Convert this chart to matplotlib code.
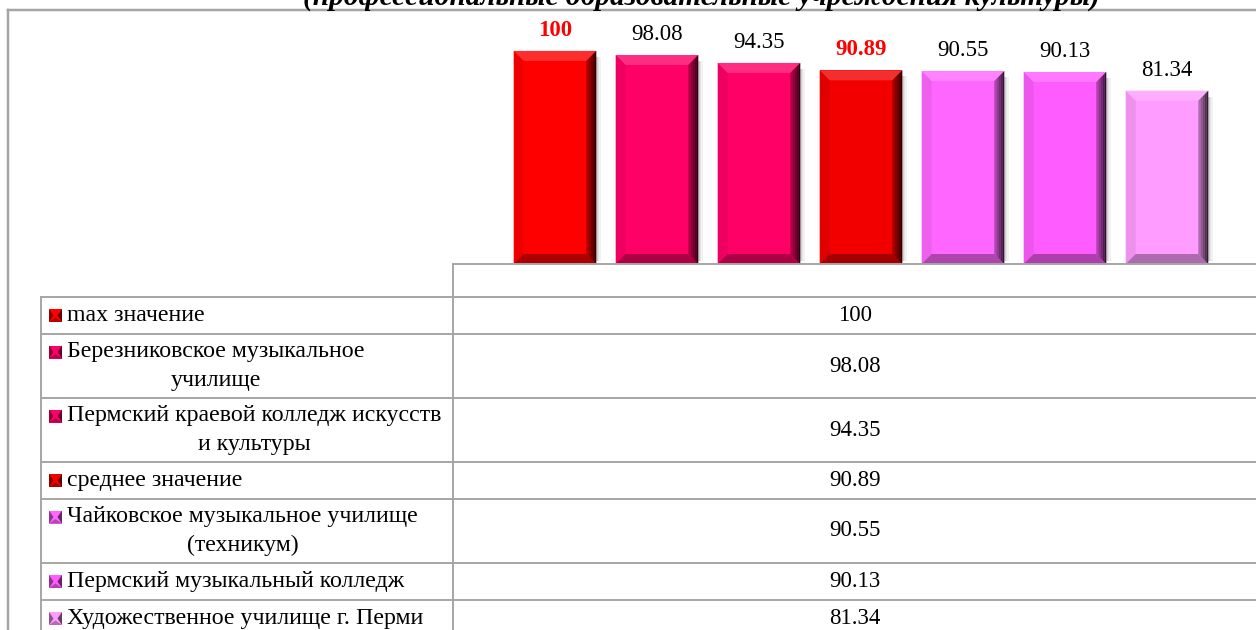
import numpy as np
import matplotlib
matplotlib.use('Agg')
import matplotlib.pyplot as plt
from matplotlib.colors import to_rgb
from matplotlib.patches import Polygon

plt.rcParams['font.family'] = ['Liberation Serif', 'DejaVu Serif']

# data
series_names = ['max значение',
                'Березниковское музыкальное\nучилище',
                'Пермский краевой колледж искусств\nи культуры',
                'среднее значение',
                'Чайковское музыкальное училище\n(техникум)',
                'Пермский музыкальный колледж',
                'Художественное училище г. Перми']
values = [100, 98.08, 94.35, 90.89, 90.55, 90.13, 81.34]
highlight = [True, False, False, True, False, False, False]
bar_colors = ['#FF0000', '#FF0066', '#FF0066', '#F20000', '#FF66FF', '#FF5CFF', '#FF9CFF']
title = '(профессиональные образовательные учреждения культуры)'

W, H = 1256, 630
GRID = '#a6a6a6'


def shade(c, f):
    c = np.array(to_rgb(c))
    if f < 1:
        return tuple(c * f)
    return tuple(c + (1 - c) * (f - 1))


def draw_bevel(ax, x0, w, h, color, bx, by, z=3):
    x1 = x0 + w
    # outer soft shadow on the right
    for k, a in enumerate([0.18, 0.10, 0.05]):
        ax.add_patch(Polygon([(x1 + k * bx * 0.15, by * 0.3), (x1 + (k + 1) * bx * 0.15, by * 0.3),
                              (x1 + (k + 1) * bx * 0.15, h - by * 0.6), (x1 + k * bx * 0.15, h - by * 0.6)],
                             closed=True, fc='black', ec='none', alpha=a, zorder=z - 1))
    ax.add_patch(Polygon([(x0, 0), (x0, h), (x0 + bx, h - by), (x0 + bx, by)],
                         closed=True, fc=shade(color, 0.93), ec='none', zorder=z))
    ax.add_patch(Polygon([(x0, h), (x1, h), (x1 - bx, h - by), (x0 + bx, h - by)],
                         closed=True, fc=shade(color, 1.18), ec='none', zorder=z))
    ax.add_patch(Polygon([(x0, 0), (x1, 0), (x1 - bx, by), (x0 + bx, by)],
                         closed=True, fc=shade(color, 0.68), ec='none', zorder=z))
    # right side: gradient to dark edge
    n = 5
    for i in range(n):
        a = x1 - bx + bx * i / n
        b = x1 - bx + bx * (i + 1) / n
        yb = lambda x: by * (x1 - x) / bx
        yt = lambda x: h - by * (x1 - x) / bx
        f = 0.75 - 0.62 * (i + 0.5) / n
        ax.add_patch(Polygon([(a, yb(a)), (b, yb(b)), (b, yt(b)), (a, yt(a))],
                             closed=True, fc=shade(color, f), ec='none', zorder=z))


fig = plt.figure(figsize=(W / 100, H / 100), dpi=100)

# bar area
left_px, right_px = 453, 1269
top_px, base_px = 10, 264
ax = fig.add_axes([left_px / W, (H - base_px) / H, (right_px - left_px) / W, (base_px - top_px) / H])
ax.set_xlim(-1, 7)
ax.set_ylim(0, 119.2)
ax.axis('off')

x = np.arange(len(values))
bars = ax.bar(x, values, width=0.81, color=bar_colors, zorder=2)

p0 = ax.transData.transform((0, 0))
p1 = ax.transData.transform((1, 1))
bx = 10 / (p1[0] - p0[0])
by = 10 / (p1[1] - p0[1])

for rect, c, v, hl in zip(bars, bar_colors, values, highlight):
    draw_bevel(ax, rect.get_x(), rect.get_width(), rect.get_height(), c, bx, by)
    ax.annotate(f'{v:g}', (rect.get_x() + rect.get_width() / 2, rect.get_height()),
                xytext=(0, 15), textcoords='offset pixels', ha='center', va='baseline',
                fontsize=16.5, color='red' if hl else 'black',
                fontweight='bold' if hl else 'normal', annotation_clip=False)

# data table and frame (pixel coordinates)
tab = fig.add_axes([0, 0, 1, 1], facecolor='none')
tab.set_xlim(0, W)
tab.set_ylim(H, 0)
tab.axis('off')

lw = 1.4
tab.plot([8, W], [10, 10], color=GRID, lw=lw + 0.4)
tab.plot([8, 8], [10, H], color=GRID, lw=lw + 0.4)
tab.plot([453, W], [base_px, base_px], color=GRID, lw=lw)
tab.plot([453, 453], [base_px, H], color=GRID, lw=lw)
tab.plot([41, 41], [297, H], color=GRID, lw=lw)

row_edges = [297, 334, 398, 462, 499, 563, 600, 637]
for y in row_edges[:-1]:
    tab.plot([41, W], [y, y], color=GRID, lw=lw)

line_px = 28
ks = 13
for i, (name, v, c) in enumerate(zip(series_names, values, bar_colors)):
    top, bot = row_edges[i], row_edges[i + 1]
    cy = (top + bot) / 2
    nlines = name.count('\n') + 1
    tab.text(67, cy, name, ha='left', va='center', multialignment='center',
             linespacing=1.48, fontsize=17.2)
    tab.text(855, cy, f'{v:g}', ha='center', va='center', fontsize=16.5)
    ky = cy - (nlines - 1) * line_px / 2
    kx0, kx1 = 49, 49 + ks
    ky0, ky1 = ky - ks / 2, ky + ks / 2
    kc = (kx0 + kx1) / 2
    tab.add_patch(Polygon([(kx0, ky0), (kx1, ky0), (kx1, ky1), (kx0, ky1)], fc=c, ec='none'))
    tab.add_patch(Polygon([(kx0, ky0), (kx0, ky1), (kc - 2, ky)], fc=shade(c, 0.55), ec='none'))
    tab.add_patch(Polygon([(kx1, ky0), (kx1, ky1), (kc + 2, ky)], fc=shade(c, 0.4), ec='none'))
    tab.add_patch(Polygon([(kx0, ky1), (kx1, ky1), (kc, ky + 2)], fc=shade(c, 0.7), ec='none'))

# title is partly outside the canvas, as in the source picture
fig.text(701 / W, (H - 5) / H, title, ha='center', va='baseline', fontsize=21.2,
         fontweight='bold', fontstyle='italic')

fig.savefig('out.png', dpi=100)
